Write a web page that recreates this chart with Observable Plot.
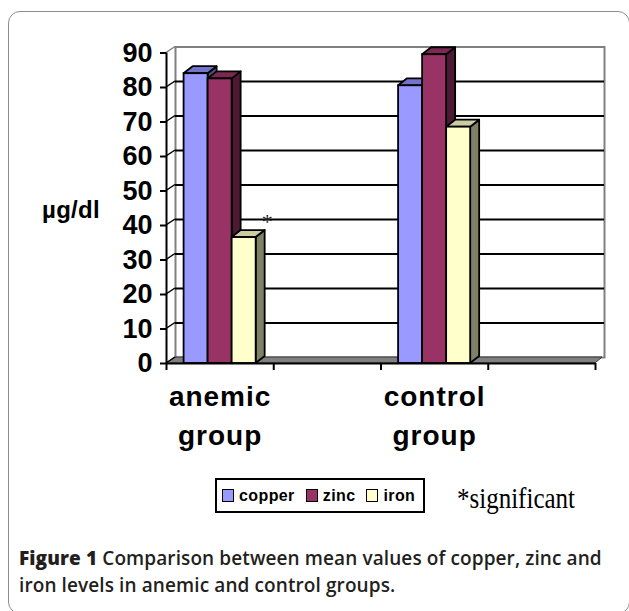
<!DOCTYPE html>
<html><head><meta charset="utf-8">
<script src="https://cdn.jsdelivr.net/npm/d3@7"></script>
<script src="https://cdn.jsdelivr.net/npm/@observablehq/plot@0.6"></script>
<style>
body{margin:0;background:#fff;width:629px;height:611px;overflow:hidden;position:relative;}
#frame{position:absolute;left:8px;top:11px;width:622px;height:603px;border:1px solid #8c8c8c;border-radius:12px;box-sizing:border-box;}
#chart{position:absolute;left:0;top:0;}
#chart .xlab text{letter-spacing:1px;}
#unit{position:absolute;left:42px;top:198px;font:bold 24px "Liberation Sans",Arial,sans-serif;line-height:1;letter-spacing:0.3px;color:#000;}
#legend{position:absolute;left:215px;top:478px;width:210px;height:35px;border:2px solid #000;box-sizing:border-box;display:flex;align-items:center;padding-left:5px;font:bold 16px "Liberation Sans",Arial,sans-serif;color:#000;letter-spacing:0.4px;}
#legend .it{display:flex;align-items:center;margin-right:11px;}
#legend .sw{width:10px;height:11px;border:1.5px solid #000;margin-right:5px;}
#sig{position:absolute;left:457px;top:483px;font:25px "Liberation Serif","Times New Roman",serif;line-height:1;transform:scale(1,1.2);transform-origin:left top;color:#000;}
#caption{position:absolute;left:19px;top:545px;width:606px;font:19px "Open Sans","Noto Sans",sans-serif;line-height:27px;color:#231f20;font-weight:600;letter-spacing:0.1px;}
#caption b{font-weight:800;}
</style></head><body>
<div id="frame"></div>
<div id="chart"></div>
<div id="unit">µg/dl</div>
<div id="legend"></div>
<div id="sig">*significant</div>
<div id="caption"><b>Figure 1</b> Comparison between mean values of copper, zinc and iron levels in anemic and control groups.</div>
<script>
// ---- data ----
const slots = ["anemic group", "", "control group", ""];
const groups = ["anemic group", "control group"];
const series = ["copper", "zinc", "iron"];
const copper = [84, 80.5];
const zinc = [82.5, 89.5];
const iron = [36.5, 68.5];
const yTicks = [0, 10, 20, 30, 40, 50, 60, 70, 80, 90];
const frontColors = ["#9999FF", "#993366", "#FFFFCC"];
const topColors = ["#7373CC", "#7A2952", "#CCCCA3"];
const sideColors = ["#4D4D80", "#4D1A33", "#808066"];
const significantMark = {group: "anemic group", series: "iron", label: "*"};

// ---- layout helpers ----
const valuesBySeries = {copper, zinc, iron};
const barFrac = 0.224, groupLead = 0.164;
const depthX = 9, depthY = 7, wallX = 9, wallY = 6;
const rows = [];
groups.forEach((g, gi) => {
  const slot = slots.indexOf(g);
  series.forEach((s, si) => {
    const x1 = slot + groupLead + si * barFrac;
    rows.push({group: g, series: s, si, x1, x2: x1 + barFrac, value: valuesBySeries[s][gi]});
  });
});
const groupCenters = groups.map(g => ({group: g, x: slots.indexOf(g) + 0.5}));
const sigRow = rows.find(r => r.group === significantMark.group && r.series === significantMark.series);

// legend
const legend = document.getElementById("legend");
series.forEach((s, i) => {
  const it = document.createElement("div"); it.className = "it";
  const sw = document.createElement("div"); sw.className = "sw"; sw.style.background = frontColors[i];
  const t = document.createElement("span"); t.textContent = s;
  it.appendChild(sw); it.appendChild(t); legend.appendChild(it);
});

function wallMark(index, scales) {
  const x = scales.x, y = scales.y;
  const g = d3.create("svg:g");
  const x0 = x(0), x4 = x(slots.length), y0 = y(0);
  g.append("polygon")
    .attr("points", [[x0, y0], [x4, y0], [x4 + wallX - 2, y0 - wallY], [x0 + wallX, y0 - wallY]].map(p => p.join(",")).join(" "))
    .attr("fill", "#808080").attr("stroke", "#333").attr("stroke-width", 1);
  yTicks.forEach(v => {
    g.append("line").attr("x1", x0).attr("y1", y(v)).attr("x2", x0 + wallX).attr("y2", y(v) - wallY)
      .attr("stroke", v === 90 ? "#808080" : "#000").attr("stroke-width", 1.5);
  });
  return g.node();
}

function depthMark(index, scales) {
  const x = scales.x, y = scales.y;
  const g = d3.create("svg:g").attr("stroke", "#000").attr("stroke-width", 1.8).attr("stroke-linejoin", "round");
  rows.forEach(r => {
    const a = x(r.x1), b = x(r.x2), t = y(r.value), z = y(0);
    g.append("polygon")
      .attr("points", [[b, z], [b, t], [b + depthX, t - depthY], [b + depthX, z - depthY]].map(p => p.join(",")).join(" "))
      .attr("fill", sideColors[r.si]);
    g.append("polygon")
      .attr("points", [[a, t], [b, t], [b + depthX, t - depthY], [a + depthX, t - depthY]].map(p => p.join(",")).join(" "))
      .attr("fill", topColors[r.si]);
  });
  return g.node();
}

const plot = Plot.plot({
  width: 629,
  height: 520,
  marginLeft: 166,
  marginRight: 34,
  marginTop: 52.5,
  marginBottom: 157,
  x: {domain: [0, slots.length]},
  y: {domain: [0, 90]},
  style: {fontFamily: "'Liberation Sans', Arial, sans-serif", color: "#000", background: "transparent", overflow: "visible"},
  marks: [
    Plot.frame({stroke: "#808080", strokeWidth: 2, dx: wallX, dy: -wallY}),
    Plot.ruleY(yTicks.filter(v => v > 0 && v < 90), {stroke: "#000", strokeWidth: 2, dx: wallX, dy: -wallY}),
    wallMark,
    depthMark,
    Plot.rectY(rows, {x1: "x1", x2: "x2", y: "value", fill: d => frontColors[d.si], stroke: "#000", strokeWidth: 1.8}),
    Plot.ruleX([0], {stroke: "#000", strokeWidth: 2}),
    Plot.ruleY([0], {stroke: "#000", strokeWidth: 2}),
    Plot.axisX({ticks: d3.range(slots.length + 1), tickFormat: () => "", tickSize: 7, strokeWidth: 2, label: null}),
    Plot.axisY({ticks: yTicks, tickSize: 6, tickPadding: 8, fontSize: 27, fontWeight: "bold", strokeWidth: 2, label: null}),
    Plot.text(groupCenters, {x: "x", y: () => 0, text: d => d.group.replace(" ", "\n"), lineAnchor: "top", dy: 15, lineHeight: 1.38, fontSize: 28, fontWeight: "bold", fill: "#000", className: "xlab"}),
    Plot.text([sigRow], {x: "x2", y: "value", text: () => significantMark.label, dx: 11, dy: -16, fontSize: 22, fontFamily: "'Liberation Serif', serif", fill: "#222"})
  ]
});
document.getElementById("chart").appendChild(plot);
</script>
</body></html>
